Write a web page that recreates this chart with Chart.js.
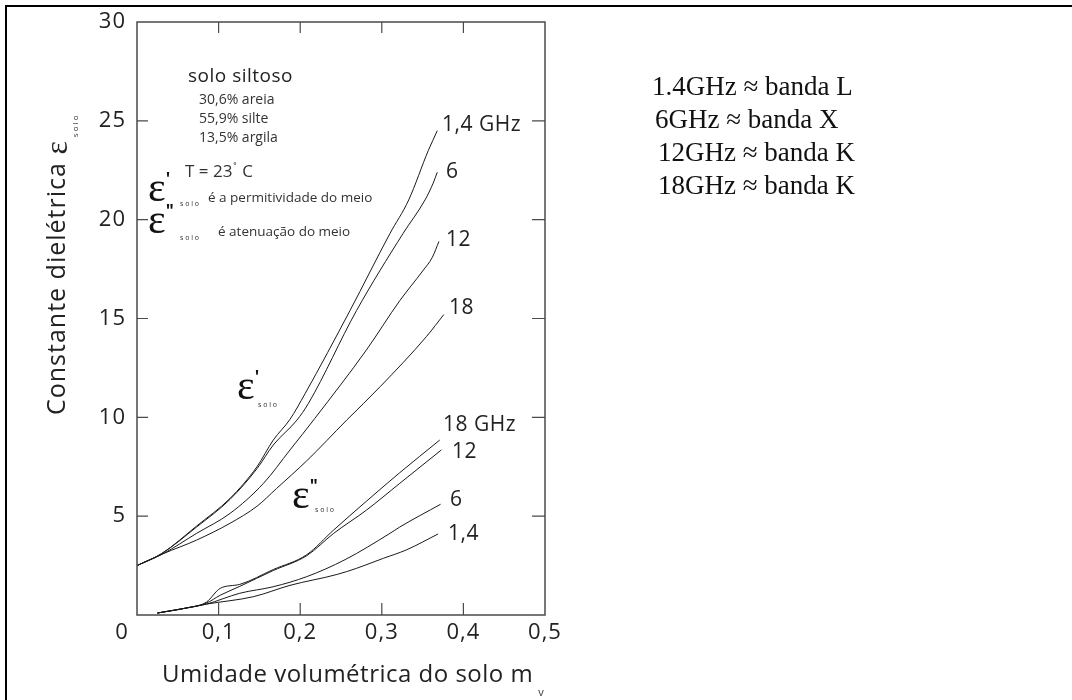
<!DOCTYPE html>
<html>
<head>
<meta charset="utf-8">
<script src="https://cdn.jsdelivr.net/npm/chart.js@4.4.1/dist/chart.umd.min.js"></script>
<style>
  html, body { margin: 0; padding: 0; background: #fff; }
  #wrap { width: 1072px; height: 700px; position: relative; }
</style>
</head>
<body>
<div id="wrap"><canvas id="soilChart"></canvas></div>
<script>
// ─── DATA ──────────────────────────────────────────────
// ε' (real part) curves, mv vs ε
const mvReal14 = [0, 0.03, 0.073, 0.114, 0.147, 0.167, 0.1875, 0.206, 0.261, 0.31, 0.333, 0.357, 0.368];
const epsReal14 = [2.5, 3.1, 4.5, 5.9, 7.5, 8.85, 9.9, 11.2, 15.4, 19.3, 21.0, 23.5, 24.5];

const mvReal6 = [0, 0.03, 0.073, 0.114, 0.147, 0.167, 0.196, 0.21, 0.269, 0.326, 0.353, 0.363, 0.368];
const epsReal6 = [2.5, 3.1, 4.45, 5.85, 7.4, 8.6, 9.86, 10.7, 15.4, 19.3, 21.0, 21.85, 22.4];

const mvReal12 = [0, 0.032, 0.073, 0.114, 0.155, 0.1875, 0.218, 0.281, 0.322, 0.35, 0.362, 0.37];
const epsReal12 = [2.5, 3.1, 4.13, 5.14, 6.66, 8.35, 9.95, 13.4, 15.9, 17.4, 18.1, 18.9];

const mvReal18 = [0, 0.032, 0.073, 0.114, 0.147, 0.171, 0.208, 0.257, 0.298, 0.355, 0.376];
const epsReal18 = [2.5, 3.1, 3.79, 4.64, 5.5, 6.4, 7.8, 9.86, 11.55, 14.1, 15.2];

// ε'' (loss) curves
const mvImag18 = [0.025, 0.06, 0.085, 0.102, 0.126, 0.167, 0.208, 0.241, 0.281, 0.322, 0.371];
const epsImag18 = [0.1, 0.35, 0.65, 1.35, 1.55, 2.3, 3.05, 4.3, 5.75, 7.2, 8.85];

const mvImag12 = [0.025, 0.06, 0.085, 0.102, 0.126, 0.167, 0.208, 0.241, 0.281, 0.322, 0.373];
const epsImag12 = [0.1, 0.35, 0.6, 1.0, 1.45, 2.25, 3.0, 4.13, 5.3, 6.66, 8.35];

const mvImag6 = [0.025, 0.06, 0.085, 0.126, 0.167, 0.208, 0.255, 0.31, 0.322, 0.372];
const epsImag6 = [0.1, 0.35, 0.55, 1.1, 1.43, 1.94, 2.8, 4.13, 4.45, 5.6];

const mvImag14 = [0.025, 0.06, 0.085, 0.143, 0.1875, 0.245, 0.269, 0.302, 0.33, 0.369];
const epsImag14 = [0.1, 0.35, 0.55, 0.93, 1.5, 2.05, 2.36, 2.87, 3.29, 4.1];

// Axes
const xTickValues = [0, 0.1, 0.2, 0.3, 0.4, 0.5];
const xTickLabels = ['0', '0,1', '0,2', '0,3', '0,4', '0,5'];
const yTickValues = [5, 10, 15, 20, 25, 30];
const yTickLabels = ['5', '10', '15', '20', '25', '30'];

const bandLines = ['1.4GHz \u2248 banda L', '6GHz \u2248 banda X', '12GHz \u2248 banda K', '18GHz \u2248 banda K'];

// ─── HELPERS ───────────────────────────────────────────
const SANS = '"Open Sans", "DejaVu Sans", sans-serif';
const SERIF = '"Liberation Serif", "DejaVu Serif", serif';

const zip = (xs, ys) => xs.map((v, i) => ({ x: v, y: ys[i] }));

const curve = (label, xs, ys) => ({
  label,
  data: zip(xs, ys),
  borderColor: '#1a1a1a',
  borderWidth: 1,
  pointRadius: 0,
  cubicInterpolationMode: 'monotone',
  fill: false
});

const text = (ctx, str, x, y, font, color, align, spacing) => {
  ctx.font = font;
  ctx.letterSpacing = spacing || '0px';
  ctx.fillStyle = color || '#222';
  ctx.textAlign = align || 'left';
  ctx.textBaseline = 'middle';
  ctx.fillText(str, x, y);
  return ctx.measureText(str).width;
};

// ε with primes and tiny "s o l o" subscript
const epsSymbol = (ctx, x, y, primes, subDx, subDy) => {
  const w = text(ctx, '\u03b5', x, y, '42px ' + SERIF, '#111');
  text(ctx, primes, x + w, y - 10, 'bold 17px ' + SANS, '#111');
  text(ctx, 's o l o', x + subDx, y + subDy, '7px ' + SANS, '#333');
};

// ─── DRAWING PLUGIN ────────────────────────────────────
const decorations = {
  id: 'decorations',
  beforeDraw(chart) {
    const ctx = chart.ctx;
    ctx.save();
    ctx.fillStyle = '#fff';
    ctx.fillRect(0, 0, chart.width, chart.height);
    // outer border (left and top)
    ctx.fillStyle = '#000';
    ctx.fillRect(5, 5, 2, chart.height - 5);
    ctx.fillRect(5, 5, chart.width - 5, 2);
    ctx.restore();
  },
  afterDraw(chart) {
    const { ctx, chartArea: a, scales: { x, y } } = chart;
    ctx.save();

    // frame
    ctx.strokeStyle = '#4a4a4a';
    ctx.lineWidth = 1.5;
    ctx.strokeRect(a.left, a.top, a.right - a.left, a.bottom - a.top);

    // inward ticks
    ctx.lineWidth = 1.2;
    ctx.beginPath();
    xTickValues.slice(1, -1).forEach(v => {
      const px = x.getPixelForValue(v);
      ctx.moveTo(px, a.bottom); ctx.lineTo(px, a.bottom - 12);
      ctx.moveTo(px, a.top); ctx.lineTo(px, a.top + 11);
    });
    yTickValues.slice(0, -1).forEach(v => {
      const py = y.getPixelForValue(v);
      ctx.moveTo(a.left, py); ctx.lineTo(a.left + 11, py);
      ctx.moveTo(a.right, py); ctx.lineTo(a.right - 13, py);
    });
    ctx.stroke();

    // tick labels
    const tickFont = '22px ' + SANS;
    xTickValues.forEach((v, i) => {
      let px = x.getPixelForValue(v);
      if (v === 0) px -= 15;
      text(ctx, xTickLabels[i], px, a.bottom + 18, tickFont, '#222', 'center', '1px');
    });
    yTickValues.forEach((v, i) => {
      text(ctx, yTickLabels[i], a.left - 11, y.getPixelForValue(v), tickFont, '#222', 'right', '1px');
    });

    // x axis title
    const xtw = text(ctx, 'Umidade volumétrica do solo m', 162, 675, '24px ' + SANS, '#222', 'left', '0.5px');
    text(ctx, 'v', 162 + xtw + 5, 693, '11px ' + SANS, '#333');

    // y axis title (rotated)
    ctx.save();
    ctx.translate(58, 415);
    ctx.rotate(-Math.PI / 2);
    const ytw = text(ctx, 'Constante dielétrica ', 0, 0, '25px ' + SANS, '#222', 'left', '1px');
    const ew = text(ctx, '\u03b5', ytw, 1, '32px ' + SERIF, '#222');
    text(ctx, 's o l o', ytw + ew + 4, 18, '8px ' + SANS, '#333');
    ctx.restore();

    // soil info block
    text(ctx, 'solo siltoso', 188, 77, '19px ' + SANS, '#222', 'left', '0.5px');
    text(ctx, '30,6% areia', 199, 100, '14px ' + SANS, '#333');
    text(ctx, '55,9% silte', 199, 119, '14px ' + SANS, '#333');
    text(ctx, '13,5% argila', 199, 138, '14px ' + SANS, '#333');
    const tw = text(ctx, 'T = 23', 185, 172, '17px ' + SANS, '#333');
    text(ctx, '\u02da', 185 + tw + 1, 168, '11px ' + SANS, '#333');
    text(ctx, 'C', 185 + tw + 10, 172, '17px ' + SANS, '#333');

    epsSymbol(ctx, 148, 190, "'", 32, 14);
    text(ctx, 'é a permitividade do meio', 208, 198, '13.5px ' + SANS, '#333');
    epsSymbol(ctx, 148, 222, '"', 32, 16);
    text(ctx, 'é atenuação do meio', 218, 232, '13.5px ' + SANS, '#333');

    // curve labels
    const lf = '21px ' + SANS;
    text(ctx, '1,4 GHz', 442, 125, lf, '#222', 'left', '0.5px');
    text(ctx, '6', 446, 172, lf);
    text(ctx, '12', 446, 240, lf, '#222', 'left', '0.5px');
    text(ctx, '18', 449, 308, lf, '#222', 'left', '0.5px');
    text(ctx, '18 GHz', 443, 425, lf, '#222', 'left', '0.5px');
    text(ctx, '12', 452, 452, lf, '#222', 'left', '0.5px');
    text(ctx, '6', 450, 500, lf);
    text(ctx, '1,4', 448, 534, lf, '#222', 'left', '0.5px');

    epsSymbol(ctx, 237, 388, "'", 21, 17);
    epsSymbol(ctx, 292, 497, '"', 23, 13);

    // band legend (serif)
    const bandX = [652, 655, 658, 658];
    bandLines.forEach((s, i) => {
      text(ctx, s, bandX[i], 88 + i * 33, '27px ' + SERIF, '#111');
    });

    ctx.restore();
  }
};

// ─── CHART ─────────────────────────────────────────────
new Chart(document.getElementById('soilChart'), {
  type: 'line',
  data: {
    datasets: [
      curve("ε' 1,4 GHz", mvReal14, epsReal14),
      curve("ε' 6 GHz", mvReal6, epsReal6),
      curve("ε' 12 GHz", mvReal12, epsReal12),
      curve("ε' 18 GHz", mvReal18, epsReal18),
      curve('ε" 18 GHz', mvImag18, epsImag18),
      curve('ε" 12 GHz', mvImag12, epsImag12),
      curve('ε" 6 GHz', mvImag6, epsImag6),
      curve('ε" 1,4 GHz', mvImag14, epsImag14)
    ]
  },
  options: {
    responsive: true,
    maintainAspectRatio: false,
    animation: false,
    layout: { padding: { left: 137, top: 22, right: 527, bottom: 85 } },
    plugins: { legend: { display: false }, tooltip: { enabled: false } },
    scales: {
      x: { type: 'linear', min: 0, max: 0.5, display: false },
      y: { type: 'linear', min: 0, max: 30, display: false }
    }
  },
  plugins: [decorations]
});
</script>
</body>
</html>
